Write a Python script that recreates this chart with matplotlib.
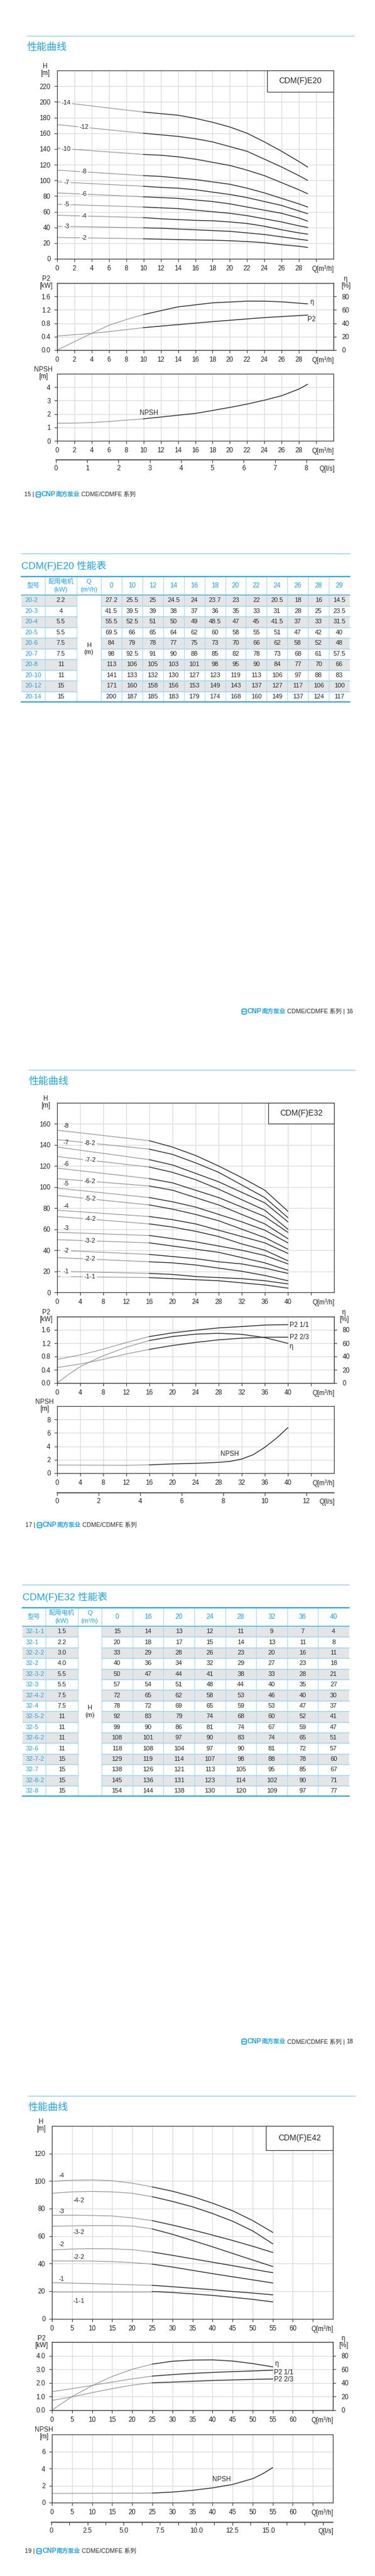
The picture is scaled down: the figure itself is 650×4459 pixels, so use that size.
import numpy as np
import matplotlib
matplotlib.use("Agg")
import matplotlib.pyplot as plt
from matplotlib.patches import Rectangle, FancyBboxPatch

plt.rcParams['font.family'] = ['Liberation Sans', 'Noto Sans CJK SC', 'DejaVu Sans']
plt.rcParams['font.size'] = 8

W, H = 650, 4459
BLUE = '#1fa3de'
PALE = '#93d4f0'
GRID = '#d9d9d9'
INK = '#262626'
FAINT = '#8c8c8c'
FRAME = '#3c3c3c'

# ========== CDM(F)E20 ==========
e20_q = [0, 10, 12, 14, 16, 18, 20, 22, 24, 26, 28, 29]
e20_models = ['20-2', '20-3', '20-4', '20-5', '20-6', '20-7', '20-8', '20-10', '20-12', '20-14']
e20_kw = ['2.2', '4', '5.5', '5.5', '7.5', '7.5', '11', '11', '15', '15']
e20_h = [
    [27.2, 25.5, 25, 24.5, 24, 23.7, 23, 22, 20.5, 18, 16, 14.5],
    [41.5, 39.5, 39, 38, 37, 36, 35, 33, 31, 28, 25, 23.5],
    [55.5, 52.5, 51, 50, 49, 48.5, 47, 45, 41.5, 37, 33, 31.5],
    [69.5, 66, 65, 64, 62, 60, 58, 55, 51, 47, 42, 40],
    [84, 79, 78, 77, 75, 73, 70, 66, 62, 58, 52, 48],
    [98, 92.5, 91, 90, 88, 85, 82, 78, 73, 68, 61, 57.5],
    [113, 106, 105, 103, 101, 98, 95, 90, 84, 77, 70, 66],
    [141, 133, 132, 130, 127, 123, 119, 113, 106, 97, 88, 83],
    [171, 160, 158, 156, 153, 149, 143, 137, 127, 117, 106, 100],
    [200, 187, 185, 183, 179, 174, 168, 160, 149, 137, 124, 117],
]
e20_pq = [0, 2, 4, 6, 8, 10, 14, 18, 22, 24, 26, 29]
e20_eta = [0, 12.5, 25, 37, 45.5, 53, 64.5, 70.5, 73, 73, 72, 69]
e20_p2 = [0.42, 0.46, 0.50, 0.55, 0.61, 0.67, 0.76, 0.85, 0.93, 0.97, 1.0, 1.045]
e20_nq = [0, 2, 4, 6, 8, 10, 12, 14, 16, 18, 20, 22, 24, 26, 28, 29]
e20_npsh = [1.31, 1.32, 1.36, 1.44, 1.54, 1.64, 1.77, 1.91, 2.04, 2.26, 2.49, 2.74, 3.03, 3.36, 3.86, 4.21]

# ========== CDM(F)E32 ==========
e32_q = [0, 16, 20, 24, 28, 32, 36, 40]
e32_models = ['32-1-1', '32-1', '32-2-2', '32-2', '32-3-2', '32-3', '32-4-2', '32-4',
              '32-5-2', '32-5', '32-6-2', '32-6', '32-7-2', '32-7', '32-8-2', '32-8']
e32_kw = ['1.5', '2.2', '3.0', '4.0', '5.5', '5.5', '7.5', '7.5',
          '11', '11', '11', '11', '15', '15', '15', '15']
e32_h = [
    [15, 14, 13, 12, 11, 9, 7, 4],
    [20, 18, 17, 15, 14, 13, 11, 8],
    [33, 29, 28, 26, 23, 20, 16, 11],
    [40, 36, 34, 32, 29, 27, 23, 18],
    [50, 47, 44, 41, 38, 33, 28, 21],
    [57, 54, 51, 48, 44, 40, 35, 27],
    [72, 65, 62, 58, 53, 46, 40, 30],
    [78, 72, 69, 65, 59, 53, 47, 37],
    [92, 83, 79, 74, 68, 60, 52, 41],
    [99, 90, 86, 81, 74, 67, 59, 47],
    [108, 101, 97, 90, 83, 74, 65, 51],
    [118, 108, 104, 97, 90, 81, 72, 57],
    [129, 119, 114, 107, 98, 88, 78, 60],
    [138, 126, 121, 113, 105, 95, 85, 67],
    [145, 136, 131, 123, 114, 102, 90, 71],
    [154, 144, 138, 130, 120, 109, 97, 77],
]
e32_pq = [0, 2, 4, 6, 8, 12, 16, 20, 24, 28, 32, 36, 40]
e32_eta = [0, 13, 24.6, 33, 41, 54, 64, 70, 73.6, 74.8, 73.3, 68.4, 59.7]
e32_p2_full = [0.713, 0.78, 0.846, 0.93, 1.02, 1.22, 1.40, 1.51, 1.59, 1.66, 1.70, 1.745, 1.757]
e32_p2_part = [0.464, 0.52, 0.574, 0.64, 0.713, 0.875, 1.014, 1.13, 1.223, 1.30, 1.35, 1.38, 1.38]
e32_nq = [0, 8, 12, 16, 20, 24, 28, 30, 32, 34, 36, 38, 40]
e32_npsh = [1.21, 1.19, 1.18, 1.24, 1.38, 1.47, 1.61, 1.76, 2.1, 2.76, 3.86, 5.2, 6.79]

# ========== CDM(F)E42 ==========
e42_q = [0, 5, 10, 15, 20, 25, 30, 35, 40, 45, 50, 55]
e42_tags = ['-4', '-4-2', '-3', '-3-2', '-2', '-2-2', '-1', '-1-1']
e42_h = [
    [99.8, 100.6, 100.8, 100.2, 98.4, 95.7, 92.6, 88.7, 83.9, 78.4, 71.3, 62.7],
    [91.1, 92.1, 92.4, 92.1, 91.1, 88.6, 85.2, 81.3, 76.4, 70.8, 63.8, 54.4],
    [75.1, 75.2, 75.0, 74.6, 73.2, 71.2, 68.0, 64.5, 60.7, 56.8, 52.6, 48.1],
    [67.1, 67.4, 67.6, 67.6, 67.3, 65.2, 61.3, 56.8, 52.2, 47.4, 42.6, 37.9],
    [49.9, 50.6, 50.8, 50.7, 50.1, 48.4, 46.0, 43.5, 41.0, 38.5, 35.9, 33.4],
    [41.9, 41.9, 41.8, 41.4, 40.7, 39.6, 37.5, 35.1, 32.7, 30.4, 28.2, 25.9],
    [26.1, 25.8, 25.4, 25.0, 24.6, 24.2, 23.2, 22.1, 21.0, 19.7, 18.6, 17.3],
    [19.7, 19.7, 19.7, 19.7, 19.7, 19.7, 19.0, 18.0, 16.9, 15.5, 14.0, 12.2],
]
e42_label_dy = [3.8, -6.3, 2.9, -4.7, 3.7, 2.9, 2.7, -6.9]
e42_eta = [0, 20, 35.9, 49.5, 60, 67.6, 71.8, 73.5, 73.8, 72.1, 68.4, 63.6]
e42_p2_full = [1.357, 1.58, 1.82, 2.06, 2.30, 2.50, 2.61, 2.70, 2.77, 2.83, 2.88, 2.93]
e42_p2_part = [0.72, 0.975, 1.29, 1.58, 1.84, 2.01, 2.06, 2.12, 2.18, 2.22, 2.26, 2.29]
e42_nq = [0, 25, 30, 35, 40, 45, 50, 52.5, 55]
e42_npsh = [1.08, 1.12, 1.24, 1.44, 1.73, 2.13, 2.81, 3.38, 4.11]


fig = plt.figure(figsize=(W / 100, H / 100), dpi=100)
bg = fig.add_axes([0, 0, 1, 1], zorder=-1)
bg.set_xlim(0, W)
bg.set_ylim(H, 0)
bg.axis('off')


def px_axes(x0, y0, x1, y1):
    return fig.add_axes([x0 / W, 1 - y1 / H, (x1 - x0) / W, (y1 - y0) / H])


def style(ax, xlim, xticks, xlabels, ylim, yticks, ylabels):
    ax.set_xlim(*xlim)
    ax.set_ylim(*ylim)
    ax.set_xticks(xticks)
    ax.set_xticklabels(xlabels)
    ax.set_yticks(yticks)
    ax.set_yticklabels(ylabels)
    ax.grid(True, color=GRID, lw=0.8)
    ax.set_axisbelow(True)
    for s in ax.spines.values():
        s.set_color(FRAME)
        s.set_linewidth(0.9)
    ax.tick_params(direction='out', length=3.6, width=0.8, color=FRAME,
                   labelsize=8.3, labelcolor=INK, pad=4.6)
    ax.annotate('Q[m³/h]', xy=(1, 0), xycoords='axes fraction', xytext=(1, -8.2),
                textcoords='offset points', ha='right', va='top', fontsize=8.3, color=INK)


def two_tone(ax, q, v, split):
    q = np.asarray(q, float)
    v = np.asarray(v, float)
    lo = q <= split
    hi = q >= split
    ax.plot(q[lo], v[lo], color=FAINT, lw=0.8)
    ax.plot(q[hi], v[hi], color=INK, lw=1.0)


def model_box(ax, left, bottom, name):
    ax.add_patch(Rectangle((left, bottom), 1 - left, 1 - bottom, transform=ax.transAxes,
                           fc='white', ec=FRAME, lw=0.9, zorder=4, clip_on=False))
    ax.text((1 + left) / 2, (1 + bottom) / 2, name, transform=ax.transAxes,
            ha='center', va='center', fontsize=10, color=INK, zorder=5)


def eta_axis(ax):
    a2 = ax.twinx()
    a2.set_ylim(0, 100)
    a2.set_yticks([0, 20, 40, 60, 80])
    for s in a2.spines.values():
        s.set_color(FRAME)
        s.set_linewidth(0.9)
    a2.tick_params(direction='out', length=3.6, width=0.8, color=FRAME,
                   labelsize=8.3, labelcolor=INK, pad=7)
    return a2


def ls_axis(x0, x1, y, xmax, ticks, labels):
    a = px_axes(x0, y, x1, y + 0.5)
    a.set_xlim(0, xmax)
    a.set_ylim(0, 1)
    a.patch.set_visible(False)
    for s in ('left', 'right', 'top'):
        a.spines[s].set_visible(False)
    a.spines['bottom'].set_color(FRAME)
    a.spines['bottom'].set_linewidth(1.2)
    a.set_yticks([])
    a.set_xticks(ticks)
    a.set_xticklabels(labels)
    a.tick_params(direction='out', length=3.6, width=0.8, color=FRAME,
                  labelsize=8.3, labelcolor=INK, pad=3.6)
    a.annotate('Q[l/s]', xy=(1, 0), xycoords='axes fraction', xytext=(1, -7.2),
               textcoords='offset points', ha='right', va='top', fontsize=8.3, color=INK)


def unit_label(x, y, top, bottom):
    bg.text(x, y, top, ha='center', va='center', fontsize=8.3, color=INK)
    bg.text(x, y + 12, bottom, ha='center', va='center', fontsize=8.3, color=INK)


def on_line(ax, x, y, s, pad=0.15):
    ax.text(x, y, s, ha='center', va='center', fontsize=8, color=INK, zorder=3,
            bbox=dict(boxstyle='square,pad=%s' % pad, fc='white', ec='none'))


def page_head(x0, x1, y, title):
    bg.plot([x0, x1], [y, y], color='#86cdee', lw=1.0)
    bg.text(x0, y + 20, title, ha='left', va='center', fontsize=12.5, color=BLUE)


rend = fig.canvas.get_renderer()


def footer(y, page, x=None, right=None):
    if right is None:
        parts = [(page + ' | ', INK, 'normal', 7.5), ('ICON', BLUE, 'bold', 8.5),
                 ('CNP', BLUE, 'bold', 8.5), ('南方泵业', BLUE, 'bold', 7.5),
                 (' CDME/CDMFE 系列', INK, 'normal', 7.5)]
    else:
        parts = [('ICON', BLUE, 'bold', 8.5), ('CNP', BLUE, 'bold', 8.5),
                 ('南方泵业', BLUE, 'bold', 7.5), (' CDME/CDMFE 系列 | ', INK, 'normal', 7.5),
                 (page, INK, 'normal', 7.5)]
    items = []
    for s, c, wgt, fs in parts:
        if s == 'ICON':
            items.append(('ICON', 10.0))
            continue
        t = bg.text(0, y, s, ha='left', va='center', color=c, fontweight=wgt, fontsize=fs)
        items.append((t, t.get_window_extent(rend).width))
    total = sum(w for _, w in items)
    cur = x if right is None else right - total
    for t, w in items:
        if t == 'ICON':
            bg.add_patch(FancyBboxPatch((cur + 0.5, y - 4.5), 8, 9,
                                        boxstyle='round,pad=0,rounding_size=2.5',
                                        fc='none', ec=BLUE, lw=1.3))
            bg.plot([cur + 2.5, cur + 6.5], [y, y], color=BLUE, lw=1.1)
        else:
            t.set_x(cur)
        cur += w


def draw_table(x0, top, widths, head_h, row_h, qvals, models, kws, hvals):
    widths = np.asarray(widths, float)
    edges = np.concatenate([[x0], x0 + np.cumsum(widths)])
    mids = (edges[:-1] + edges[1:]) / 2
    body = top + head_h
    n = len(models)
    bottom = body + n * row_h
    for i in range(n):
        y = body + i * row_h
        if i % 2 == 0:
            for c in range(len(widths)):
                if c != 2:
                    bg.add_patch(Rectangle((edges[c], y), widths[c], row_h,
                                           fc='#e4e5e7', ec='none'))
        if i > 0:
            bg.plot([edges[0], edges[2]], [y, y], color=PALE, lw=1.0)
            bg.plot([edges[3], edges[-1]], [y, y], color=PALE, lw=1.0)
        yc = y + row_h / 2
        bg.text(edges[0] + 6, yc, models[i], ha='left', va='center', fontsize=8, color=BLUE)
        bg.text(mids[1], yc, kws[i], ha='center', va='center', fontsize=8, color=INK)
        for c, v in enumerate(hvals[i]):
            bg.text(mids[3 + c], yc, f'{v:g}', ha='center', va='center', fontsize=8, color=INK)
    for e in edges[1:-1]:
        bg.plot([e, e], [top, bottom], color='#a6dbf2', lw=0.8)
    bg.plot([edges[0], edges[-1]], [top, top], color='#29a9e1', lw=1.6)
    bg.plot([edges[0], edges[-1]], [body, body], color='#4db8e8', lw=1.2)
    bg.plot([edges[0], edges[-1]], [bottom, bottom], color='#29a9e1', lw=1.6)
    hm = top + head_h / 2
    bg.text(mids[0], hm, '型号', ha='center', va='center', fontsize=8, color=BLUE)
    bg.text(mids[1], hm - 7, '配用电机', ha='center', va='center', fontsize=8, color=BLUE)
    bg.text(mids[1], hm + 7, '(kW)', ha='center', va='center', fontsize=8, color=BLUE)
    bg.text(mids[2], hm - 7, 'Q', ha='center', va='center', fontsize=8, color=BLUE)
    bg.text(mids[2], hm + 7, '(m³/h)', ha='center', va='center', fontsize=8, color=BLUE)
    for c, q in enumerate(qvals):
        bg.text(mids[3 + c], hm, str(q), ha='center', va='center', fontsize=8.5, color=BLUE)
    bm = (body + bottom) / 2
    bg.text(mids[2], bm - 6, 'H', ha='center', va='center', fontsize=8, color=INK)
    bg.text(mids[2], bm + 7, '(m)', ha='center', va='center', fontsize=8, color=INK)


# ===================== 第15页 CDM(F)E20 曲线 =====================
page_head(47, 614, 62, '性能曲线')

ax = px_axes(99, 122, 578, 448)
style(ax, (0, 32), np.arange(0, 31, 2), [str(v) for v in range(0, 29, 2)] + [''],
      (0, 240), np.arange(0, 221, 20), [str(v) for v in range(0, 221, 20)])
for i, (m, hv) in enumerate(zip(e20_models, e20_h)):
    two_tone(ax, e20_q, hv, 10)
    ql = 3.1 if i % 2 == 0 else 1.07
    on_line(ax, ql, np.interp(ql, e20_q, hv), m[2:])
model_box(ax, 0.76, 0.887, 'CDM(F)E20')
unit_label(78, 115, 'H', '[m]')

ax = px_axes(99, 490, 578, 606)
style(ax, (0, 32), np.arange(0, 31, 2), [str(v) for v in range(0, 29, 2)] + [''],
      (0, 2.0), [0, 0.4, 0.8, 1.2, 1.6], ['0.0', '0.4', '0.8', '1.2', '1.6'])
a2 = eta_axis(ax)
two_tone(a2, e20_pq, e20_eta, 10)
two_tone(ax, e20_pq, e20_p2, 10)
ax.text(29.5, 1.43, 'η', ha='center', va='center', fontsize=8.3, color=INK)
ax.text(29.45, 0.91, 'P2', ha='center', va='center', fontsize=8.3, color=INK)
unit_label(80, 483, 'P2', '[kW]')
unit_label(599, 483, 'η', '[%]')

ax = px_axes(99, 647, 578, 763)
style(ax, (0, 32), np.arange(0, 31, 2), [str(v) for v in range(0, 29, 2)] + [''],
      (0, 5), [0, 1, 2, 3, 4], ['0', '1', '2', '3', '4'])
two_tone(ax, e20_nq, e20_npsh, 10)
ax.text(10.6, 2.05, 'NPSH', ha='center', va='center', fontsize=8.3, color=INK)
unit_label(75, 640, 'NPSH', '[m]')

ls_axis(97, 579, 795, 32 / 3.6, np.arange(0, 9), [str(v) for v in range(9)])
footer(856, '15', x=42)

# ===================== 第16页 E20 性能表 =====================
page_head(37, 606, 958, '')
bg.text(37, 979, 'CDM(F)E20 性能表', ha='left', va='center', fontsize=12.3, color=BLUE)
draw_table(37, 998, [41, 55, 42] + [431 / 12] * 12, 32, 18.5,
           e20_q, e20_models, e20_kw, e20_h)
footer(1751, '16', right=612)

# ===================== 第17页 CDM(F)E32 曲线 =====================
page_head(50, 615, 1852, '性能曲线')

ax = px_axes(99, 1909, 579, 2237)
style(ax, (0, 48), np.arange(0, 45, 4), [str(v) for v in range(0, 41, 4)] + [''],
      (0, 180), np.arange(0, 161, 20), [str(v) for v in range(0, 161, 20)])
for m, hv in zip(e32_models, e32_h):
    tag = m[2:]
    two_tone(ax, e32_q, hv, 16)
    if tag.count('-') == 2:
        on_line(ax, 5.7, np.interp(5.7, e32_q, hv), tag)
    elif int(tag[1:]) >= 3:
        ax.text(1.5, hv[0] + 4, tag, ha='center', va='center', fontsize=8, color=INK)
    else:
        on_line(ax, 1.5, np.interp(1.5, e32_q, hv), tag, pad=0.4)
model_box(ax, 0.7625, 0.89, 'CDM(F)E32')
unit_label(79, 1902, 'H', '[m]')

ax = px_axes(99, 2279, 579, 2394)
style(ax, (0, 48), np.arange(0, 45, 4), [str(v) for v in range(0, 41, 4)] + [''],
      (0, 2.0), [0, 0.4, 0.8, 1.2, 1.6], ['0.0', '0.4', '0.8', '1.2', '1.6'])
a2 = eta_axis(ax)
two_tone(a2, e32_pq, e32_eta, 16)
two_tone(ax, e32_pq, e32_p2_full, 16)
two_tone(ax, e32_pq, e32_p2_part, 16)
ax.text(40.3, 1.74, 'P2 1/1', ha='left', va='center', fontsize=8.3, color=INK)
ax.text(40.3, 1.37, 'P2 2/3', ha='left', va='center', fontsize=8.3, color=INK)
ax.text(40.6, 1.09, 'η', ha='center', va='center', fontsize=8.3, color=INK)
unit_label(80, 2272, 'P2', '[kW]')
unit_label(596, 2272, 'η', '[%]')

ax = px_axes(99, 2434, 579, 2550)
style(ax, (0, 48), np.arange(0, 45, 4), [str(v) for v in range(0, 41, 4)] + [''],
      (0, 10), [0, 2, 4, 6, 8], ['0', '2', '4', '6', '8'])
two_tone(ax, e32_nq, e32_npsh, 16)
ax.text(29.9, 2.87, 'NPSH', ha='center', va='center', fontsize=8.3, color=INK)
unit_label(77, 2427, 'NPSH', '[m]')

ls_axis(99, 579, 2583, 48 / 3.6, np.arange(0, 13, 2), [str(v) for v in range(0, 13, 2)])
footer(2640, '17', x=44)

# ===================== 第18页 E32 性能表 =====================
page_head(39, 605, 2743, '')
bg.text(39, 2764, 'CDM(F)E32 性能表', ha='left', va='center', fontsize=12.3, color=BLUE)
draw_table(39, 2783, [40, 56, 41] + [429 / 8] * 8, 32, 18.4,
           e32_q, e32_models, e32_kw, e32_h)
footer(3534, '18', right=612)

# ===================== 第19页 CDM(F)E42 曲线 =====================
page_head(49, 615, 3628, '性能曲线')

ax = px_axes(90, 3680, 577, 4013.5)
style(ax, (0, 70), np.arange(0, 66, 5), [str(v) for v in range(0, 61, 5)] + [''],
      (0, 140), np.arange(0, 121, 20), [str(v) for v in range(0, 121, 20)])
for tag, hv, dy in zip(e42_tags, e42_h, e42_label_dy):
    two_tone(ax, e42_q, hv, 25)
    ql = 6.7 if tag.count('-') == 2 else 2.4
    ax.text(ql, np.interp(ql, e42_q, hv) + dy, tag, ha='center', va='center',
            fontsize=8, color=INK)
model_box(ax, 0.762, 0.874, 'CDM(F)E42')
unit_label(71, 3673, 'H', '[m]')

ax = px_axes(90, 4054, 577, 4172)
style(ax, (0, 70), np.arange(0, 66, 5), [str(v) for v in range(0, 61, 5)] + [''],
      (0, 5), [0, 1, 2, 3, 4], ['0.0', '1.0', '2.0', '3.0', '4.0'])
a2 = eta_axis(ax)
two_tone(a2, e42_q, e42_eta, 25)
two_tone(ax, e42_q, e42_p2_full, 25)
two_tone(ax, e42_q, e42_p2_part, 25)
ax.text(56.0, 3.39, 'η', ha='center', va='center', fontsize=8.3, color=INK)
ax.text(55.3, 2.75, 'P2 1/1', ha='left', va='center', fontsize=8.3, color=INK)
ax.text(55.3, 2.25, 'P2 2/3', ha='left', va='center', fontsize=8.3, color=INK)
unit_label(72, 4048, 'P2', '[kW]')
unit_label(595, 4048, 'η', '[%]')

ax = px_axes(90, 4214, 577, 4332)
style(ax, (0, 70), np.arange(0, 66, 5), [str(v) for v in range(0, 61, 5)] + [''],
      (0, 8), [0, 2, 4, 6], ['0', '2', '4', '6'])
two_tone(ax, e42_nq, e42_npsh, 25)
ax.text(42.2, 2.7, 'NPSH', ha='center', va='center', fontsize=8.3, color=INK)
unit_label(76, 4206, 'NPSH', '[m]')

ls_ticks = np.arange(0, 19, 1.25)
ls_labels = ['0' if v == 0 else (f'{v:.1f}' if (v % 2.5 == 0 and v <= 15) else '') for v in ls_ticks]
ls_axis(89, 577, 4365, 70 / 3.6, ls_ticks, ls_labels)
footer(4416, '19', x=43)

fig.savefig('out.png', dpi=100)
